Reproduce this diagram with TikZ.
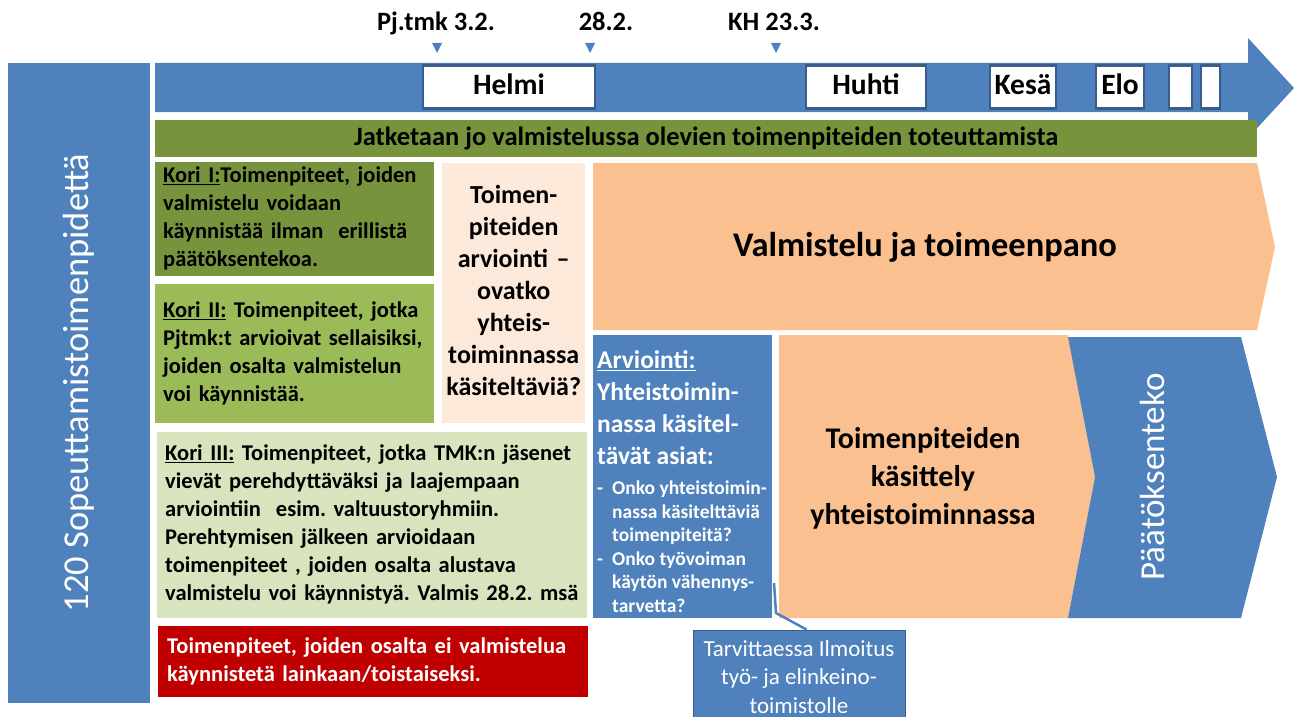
\documentclass[tikz,border=0pt]{standalone}
\usepackage{fontspec}
\setmainfont{Carlito}
\frenchspacing
\definecolor{blueA}{HTML}{4F81BD}
\definecolor{blueB}{HTML}{385D8A}
\definecolor{olive}{HTML}{77933C}
\definecolor{greenB}{HTML}{9BBB59}
\definecolor{greenC}{HTML}{D7E4BD}
\definecolor{peachA}{HTML}{FAC090}
\definecolor{peachB}{HTML}{FDE9D9}
\definecolor{redA}{HTML}{C00000}
\tikzstyle{month}=[rectangle,fill=white,draw=blueB,line width=2.5pt,inner sep=0pt,minimum height=43pt,text height=20pt,text depth=4pt,font=\fontsize{29.5}{35}\selectfont\bfseries]
\tikzstyle{kori}=[rectangle,inner sep=0pt,anchor=north west,align=left,font=\fontsize{22.5}{28}\selectfont\bfseries]
\tikzstyle{date}=[anchor=base,inner sep=0pt,font=\fontsize{26.5}{32}\selectfont\bfseries]
\tikzstyle{pointer}=[draw=blueA,line width=2.5pt,line join=round]
\newcommand{\riveja}[1]{\begin{tabular}{@{}l@{}}#1\end{tabular}}
\newcommand{\keski}[1]{\begin{tabular}{@{}c@{}}#1\end{tabular}}

\begin{document}
\begin{tikzpicture}[x=1pt,y=-1pt]
		\useasboundingbox (0,0) rectangle (1296,717);
		\clip (0,0) rectangle (1296,717);
		
		\fill[blueA] (155,63) -- (1248,63) -- (1248,38) -- (1294,88) -- (1248,138) -- (1248,112) -- (155,112) -- cycle;
		\node[month,minimum width=172pt] (helmi) at (509,87) {Helmi};
		\node[month,minimum width=120pt] (huhti) at (866,87) {Huhti};
		\node[month,minimum width=66pt] (kesa) at (1023,87) {Kesä};
		\node[month,minimum width=48pt] (elo) at (1120,87) {Elo};
		\node[month,minimum width=23pt] (syys) at (1180.5,87) {};
		\node[month,minimum width=19pt] (loka) at (1210.5,87) {};
		
		\node[date] (pjtmk) at (436,31) {Pj.tmk 3.2.};
		\node[date] (valmis) at (606,31) {28.2.};
		\node[date] (kh) at (774,31) {KH 23.3.};
		\foreach \x in {437,590,776}
			\fill[blueA] (\x-5,43) -- (\x+5,43) -- (\x,53) -- cycle;
		
		\node[fill=blueA,rotate=90,minimum width=640pt,minimum height=142pt,inner sep=0pt,text=white,font=\fontsize{36.5}{44}\selectfont] (sopeutus) at (79,383) {120 Sopeuttamistoimenpidettä};
		
		\node[kori,fill=olive,minimum width=1102pt,minimum height=37pt,align=center,font=\fontsize{26.5}{32}\selectfont\bfseries] (jatketaan) at (155,120) {Jatketaan jo valmistelussa olevien toimenpiteiden toteuttamista};
		
		\node[kori,fill=olive,minimum width=279pt,minimum height=114pt,text width=263pt] (kori1) at (155,162) {\riveja{\underline{Kori I:}Toimenpiteet, joiden\\valmistelu voidaan\\käynnistää ilman\ \ erillistä\\päätöksentekoa.}};
		\node[kori,fill=greenB,minimum width=279pt,minimum height=139pt,text width=263pt] (kori2) at (155,284) {\riveja{\underline{Kori II:} Toimenpiteet, jotka\\Pjtmk:t arvioivat sellaisiksi,\\joiden osalta valmistelun\\voi käynnistää.}};
		\node[kori,fill=greenC,minimum width=430pt,minimum height=186pt,text width=414pt] (kori3) at (157,432) {\riveja{\underline{Kori III:} Toimenpiteet, jotka TMK:n jäsenet\\vievät perehdyttäväksi ja laajempaan\\arviointiin\ \ esim. valtuustoryhmiin.\\Perehtymisen jälkeen arvioidaan\\toimenpiteet , joiden osalta alustava\\valmistelu voi käynnistyä. Valmis 28.2. msä}};
		\node[kori,fill=redA,text=white,minimum width=430pt,minimum height=71pt,text width=412pt] (eivalm) at (158,626) {\riveja{Toimenpiteet, joiden osalta ei valmistelua\\käynnistetä lainkaan/toistaiseksi.}};
		\node[kori,fill=peachB,minimum width=143pt,minimum height=260pt,text width=143pt,align=center,font=\fontsize{26}{32}\selectfont\bfseries] (arvio) at (442,163) {\keski{Toimen-\\piteiden\\arviointi –\\ovatko\\yhteis-\\toiminnassa\\käsiteltäviä?}};
		
		\fill[peachA] (593,163) -- (1257,163) -- (1275,247) -- (1257,330) -- (593,330) -- cycle;
		\node[font=\fontsize{34.5}{41}\selectfont\bfseries] (valmistelu) at (925,247) {Valmistelu ja toimeenpano};
		
		\node[kori,fill=blueA,minimum width=179pt,minimum height=283pt] (arviointi) at (593,335) {};
		\node[kori,text=white,font=\fontsize{25.5}{32}\selectfont\bfseries] (arvotsikko) at (597,346) {\riveja{\underline{Arviointi:}\\Yhteistoimin-\\nassa käsitel-\\tävät asiat:}};
		\node[kori,text=white,font=\fontsize{19.5}{23.5}\selectfont\bfseries] (arvlista) at (597,478) {\begin{tabular}{@{}p{15pt}@{}l@{}}-&Onko yhteistoimin-\\&nassa käsitelttäviä\\&toimenpiteitä?\\-&Onko työvoiman\\&käytön vähennys-\\&tarvetta?\end{tabular}};
		
		\fill[peachA] (779,335) -- (1068,335) -- (1095,477) -- (1068,618) -- (779,618) -- cycle;
		\node[align=center,font=\fontsize{30}{38}\selectfont\bfseries] (kasittely) at (923,478) {Toimenpiteiden\\käsittely\\yhteistoiminnassa};
		
		\fill[blueA] (1068,337) -- (1241,337) -- (1277,477) -- (1241,618) -- (1068,618) -- (1095,477) -- cycle;
		\node[rotate=90,text=white,font=\fontsize{35}{42}\selectfont] (paatos) at (1152,477) {Päätöksenteko};
		
		\node[rectangle,fill=blueA,draw=blueB,line width=0.8pt,minimum width=212pt,minimum height=94pt,inner sep=0pt,align=center,text=white,font=\fontsize{23}{28.5}\selectfont] (ilmoitus) at (799,677) {Tarvittaessa Ilmoitus\\työ- ja elinkeino-\\toimistolle};
		\coordinate (vihje) at (774,583);
		\coordinate (polvi) at (776,613);
		\draw[pointer] ([xshift=114pt]ilmoitus.north west) -- (polvi) -- (vihje);
\end{tikzpicture}
\end{document}
